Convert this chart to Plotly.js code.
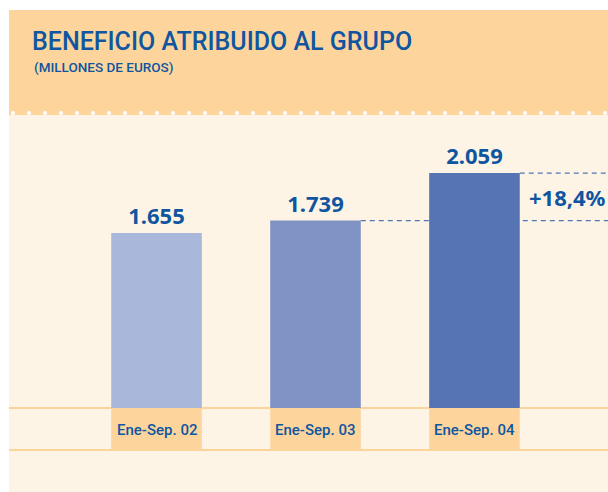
<!DOCTYPE html>
<html><head><meta charset="utf-8">
<script src="https://cdn.plot.ly/plotly-3.0.1.min.js"></script>
<style>html,body{margin:0;padding:0;background:#fff}#c{width:608px;height:492px}</style>
</head><body><div id="c"></div>
<script>
var categories = ['Ene-Sep. 02', 'Ene-Sep. 03', 'Ene-Sep. 04'];
var values = [1655, 1739, 2059];
var barColors = ['#A9B7DA', '#8093C5', '#5674B3'];
var changeLabel = '+18,4%';

var W = 608, H = 492;
function px(x){return x/W;}
function py(y){return 1 - y/H;}
var blue = '#0F55A0';
var cond = 'Roboto, "Liberation Sans", sans-serif';
var wide = '"Noto Sans","DejaVu Sans",sans-serif';
var bw = 0.57;

var shapes = [
  {type:'rect', xref:'paper', yref:'paper', x0:px(9), x1:1, y0:0, y1:py(115), fillcolor:'#FEF4E6', line:{width:0}, layer:'below'},
  {type:'rect', xref:'paper', yref:'paper', x0:px(9), x1:1, y0:py(115), y1:py(10), fillcolor:'#FDD59C', line:{width:0}, layer:'below'},
  {type:'line', xref:'paper', yref:'paper', x0:px(9), x1:1, y0:py(408), y1:py(408), line:{color:'#FBD49C', width:2}, layer:'below'},
  {type:'line', xref:'paper', yref:'paper', x0:px(9), x1:1, y0:py(450), y1:py(450), line:{color:'#FBD49C', width:2}, layer:'below'}
];
for (var d = 13; d < W; d += 16) {
  shapes.push({type:'circle', xref:'paper', yref:'paper', x0:px(d-2), x1:px(d+2), y0:py(115), y1:py(111), fillcolor:'#FFFFFF', line:{width:0}, layer:'below'});
}
categories.forEach(function(c, i){
  shapes.push({type:'rect', xref:'x', yref:'paper', x0:i-bw/2, x1:i+bw/2, y0:py(449), y1:py(409), fillcolor:'#FDD59C', line:{width:0}, layer:'below'});
});
shapes.push({type:'line', xref:'x', yref:'y', x0:1+bw/2, x1:2.84, y0:values[1], y1:values[1], line:{color:'#4F76B5', width:1.3, dash:'5px,4px'}});
shapes.push({type:'line', xref:'x', yref:'y', x0:2+bw/2, x1:2.84, y0:values[2], y1:values[2], line:{color:'#4F76B5', width:1.3, dash:'5px,4px'}});

var annotations = [
  {xref:'paper', yref:'paper', x:px(32), y:py(67), xanchor:'left', yanchor:'middle', showarrow:false,
   text:'(MILLONES DE EUROS)', font:{family:cond, size:13.5, color:blue, weight:500}},
  {xref:'x', yref:'y', x:2.84, y:(values[1]+values[2])/2, xanchor:'right', yanchor:'middle', showarrow:false,
   text:'<b>'+changeLabel+'</b>', font:{family:wide, size:22, color:blue}}
];
categories.forEach(function(c, i){
  annotations.push({xref:'x', yref:'paper', x:i, y:py(430), xanchor:'center', yanchor:'middle', showarrow:false,
    text:c, font:{family:cond, size:15, color:blue, weight:500}});
});

var trace = {
  type:'bar', x:[0,1,2], y:values, width:bw,
  marker:{color:barColors, line:{width:0}},
  texttemplate:'<b>%{y:,.0f}</b>', textposition:'outside', cliponaxis:false,
  textfont:{family:wide, size:22, color:blue},
  hoverinfo:'skip'
};

var layout = {
  width:W, height:H,
  margin:{l:0, r:0, t:0, b:0},
  paper_bgcolor:'#FFFFFF', plot_bgcolor:'rgba(0,0,0,0)',
  separators:',.',
  showlegend:false,
  title:{text:'BENEFICIO ATRIBUIDO AL GRUPO', x:px(32), xanchor:'left', y:py(41), yanchor:'middle',
         font:{family:cond, size:25, color:blue, weight:500}},
  xaxis:{domain:[px(9),1], range:[-0.928,2.84], showgrid:false, zeroline:false, showticklabels:false, ticks:'', showline:false, fixedrange:true},
  yaxis:{domain:[py(408), py(120)], range:[477, 2416], showgrid:false, zeroline:false, showticklabels:false, ticks:'', showline:false, fixedrange:true},
  shapes:shapes,
  annotations:annotations
};

Plotly.newPlot('c', [trace], layout, {displayModeBar:false, staticPlot:true});
</script></body></html>
